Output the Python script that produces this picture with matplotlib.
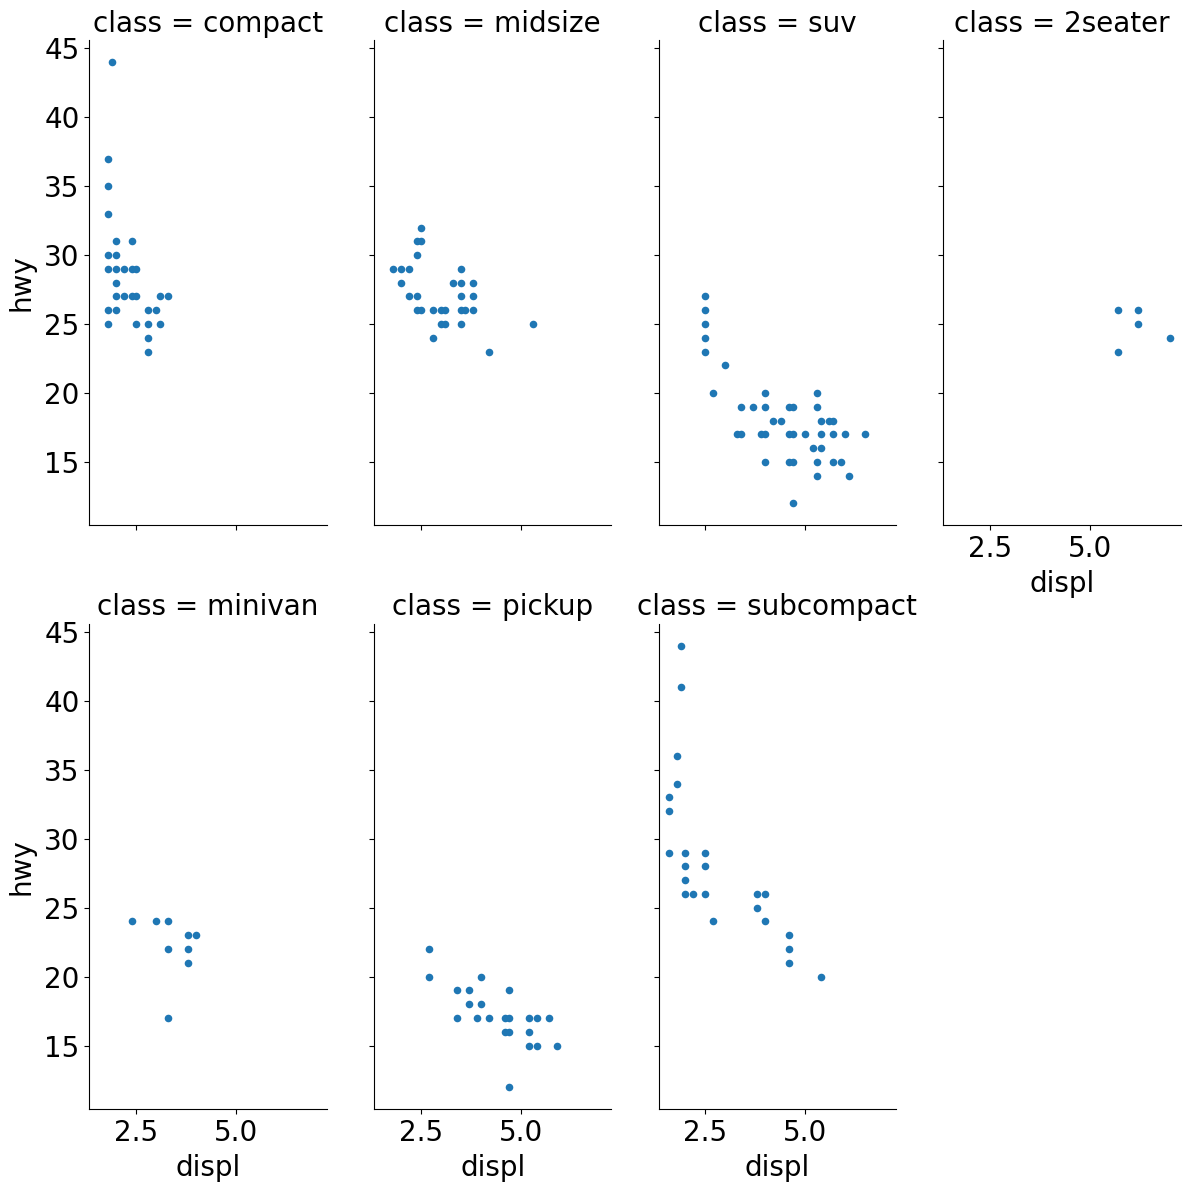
import matplotlib
matplotlib.use("Agg")
import matplotlib.pyplot as plt

classes = ["compact", "midsize", "suv", "2seater", "minivan", "pickup", "subcompact"]

compact_displ = [1.9, 1.8, 1.8, 1.8, 2.0, 2.4, 1.8, 2.0, 1.8, 2.0, 2.2, 2.4, 2.5, 2.0,
                 2.0, 2.2, 2.4, 2.5, 3.1, 3.3, 1.8, 2.0, 2.8, 3.0, 1.8, 2.5, 2.8, 3.1, 2.8, 2.8]
compact_hwy = [44, 37, 35, 33, 31, 31, 30, 30, 29, 29, 29, 29, 29, 28,
               27, 27, 27, 27, 27, 27, 26, 26, 26, 26, 25, 25, 25, 25, 24, 23]

midsize_displ = [2.5, 2.4, 2.5, 2.4, 1.8, 2.0, 2.2, 3.5, 2.0, 3.3, 3.5, 3.8, 2.2, 2.4, 3.5, 3.8,
                 2.4, 2.5, 2.8, 3.0, 3.1, 3.5, 3.6, 3.8, 3.0, 3.1, 3.5, 2.8, 4.2, 5.3]
midsize_hwy = [32, 31, 31, 30, 29, 29, 29, 29, 28, 28, 28, 28, 27, 27, 27, 27,
               26, 26, 26, 26, 26, 26, 26, 26, 25, 25, 25, 24, 23, 25]

suv_displ = [2.5, 2.5, 2.5, 2.5, 2.5, 3.0, 2.7, 4.0, 5.3, 3.4, 3.7, 4.0, 4.6, 4.7, 5.3,
             4.2, 4.4, 5.4, 5.6, 5.7, 3.3, 3.4, 3.9, 4.0, 4.6, 4.7, 5.0, 5.4, 5.7, 6.0, 6.5,
             5.2, 5.4, 4.0, 4.6, 4.7, 5.3, 5.7, 5.9, 5.3, 6.1, 4.7]
suv_hwy = [27, 26, 25, 24, 23, 22, 20, 20, 20, 19, 19, 19, 19, 19, 19,
           18, 18, 18, 18, 18, 17, 17, 17, 17, 17, 17, 17, 17, 17, 17, 17,
           16, 16, 15, 15, 15, 15, 15, 15, 14, 14, 12]

twoseater_displ = [5.7, 6.2, 6.2, 5.7, 7.0]
twoseater_hwy = [26, 26, 25, 23, 24]

minivan_displ = [2.4, 3.0, 3.3, 3.8, 4.0, 3.3, 3.8, 3.8, 3.3]
minivan_hwy = [24, 24, 24, 23, 23, 22, 22, 21, 17]

pickup_displ = [2.7, 2.7, 4.0, 3.4, 3.7, 4.7, 3.7, 4.0, 3.4, 3.9, 4.2, 4.6, 4.7, 5.2, 5.4, 5.7,
                4.6, 4.7, 5.2, 5.2, 5.4, 5.9, 4.7]
pickup_hwy = [22, 20, 20, 19, 19, 19, 18, 18, 17, 17, 17, 17, 17, 17, 17, 17,
              16, 16, 16, 15, 15, 15, 12]

subcompact_displ = [1.9, 1.9, 1.8, 1.8, 1.6, 1.6, 1.6, 2.0, 2.5, 2.0, 2.5, 2.0, 2.0, 2.2, 2.5,
                    2.7, 3.8, 4.0, 3.8, 4.0, 4.6, 4.6, 4.6, 5.4]
subcompact_hwy = [44, 41, 36, 34, 33, 32, 29, 29, 29, 28, 28, 27, 26, 26, 26,
                  24, 26, 26, 25, 24, 23, 22, 21, 20]

data = {
    "compact": (compact_displ, compact_hwy),
    "midsize": (midsize_displ, midsize_hwy),
    "suv": (suv_displ, suv_hwy),
    "2seater": (twoseater_displ, twoseater_hwy),
    "minivan": (minivan_displ, minivan_hwy),
    "pickup": (pickup_displ, pickup_hwy),
    "subcompact": (subcompact_displ, subcompact_hwy),
}

x_ticks = [2.5, 5.0]
y_ticks = [15, 20, 25, 30, 35, 40, 45]

FS = 20
W = 1190.0
fig = plt.figure(figsize=(11.9, 11.9), dpi=100)

left0 = 89.3 / W
ax_w = 237.4 / W
col_step = 284.7 / W
ax_h = 485.4 / W
bottoms = [(W - 525.4) / W, (W - 1109.0) / W]

axes = []
first = None
for i, cls in enumerate(classes):
    r, c = divmod(i, 4)
    if first is None:
        ax = fig.add_axes([left0 + c * col_step, bottoms[r], ax_w, ax_h])
        first = ax
    else:
        ax = fig.add_axes([left0 + c * col_step, bottoms[r], ax_w, ax_h],
                          sharex=first, sharey=first)
    axes.append(ax)
    xs, ys = data[cls]
    ax.scatter(xs, ys, s=30, color="#1f77b4", linewidth=0, zorder=3)
    ax.set_title(f"class = {cls}", fontsize=FS)
    ax.spines["top"].set_visible(False)
    ax.spines["right"].set_visible(False)
    ax.tick_params(labelsize=FS)

first.set_xticks(x_ticks)
first.set_yticks(y_ticks)

for i, ax in enumerate(axes):
    r, c = divmod(i, 4)
    if r == 1 or i == 3:
        ax.set_xlabel("displ", fontsize=FS, labelpad=5)
    else:
        ax.tick_params(labelbottom=False)
    if c == 0:
        ax.set_ylabel("hwy", fontsize=FS, labelpad=6)
    else:
        ax.tick_params(labelleft=False)

fig.savefig("out.png", dpi=100)
